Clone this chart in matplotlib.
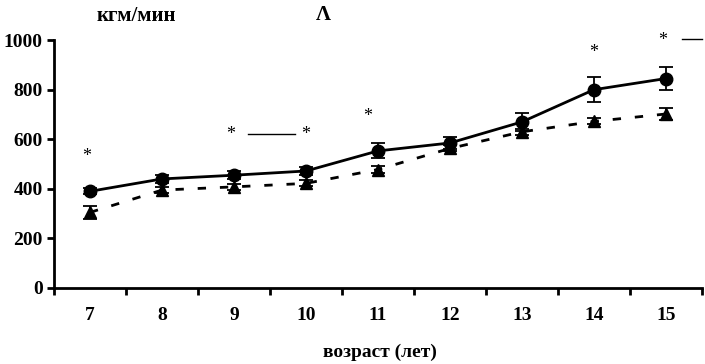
import matplotlib
matplotlib.use("Agg")
import matplotlib.pyplot as plt
import numpy as np

ages = ["7", "8", "9", "10", "11", "12", "13", "14", "15"]
circ_vals = [390, 440, 455, 472, 553, 585, 670, 800, 845]
circ_err = [12, 15, 15, 15, 30, 25, 35, 50, 45]
tri_vals = [305, 395, 408, 422, 478, 563, 630, 672, 702]
tri_err = [25, 12, 12, 12, 15, 12, 12, 12, 25]
star_pos = [(-0.05, 530), (1.95, 620), (3.0, 620), (3.85, 690), (7.0, 950), (7.95, 1000)]

plt.rcParams['font.family'] = ['Liberation Serif', 'DejaVu Serif']
plt.rcParams['font.weight'] = 'bold'

fig = plt.figure(figsize=(7.05, 3.64), dpi=100)
ax = fig.add_axes([0.0766, 0.2088, 0.919, 0.681])
x = np.arange(len(ages))

ax.errorbar(x, circ_vals, yerr=circ_err, fmt='-o', color='black', lw=2,
            ms=9, capsize=5, elinewidth=1.3, capthick=1.3)
ax.errorbar(x, tri_vals, yerr=tri_err, fmt='^', color='black', ms=9,
            capsize=5, elinewidth=1.3, capthick=1.3, ls=(0, (3, 5)), lw=2)

for sx, sy in star_pos:
    ax.text(sx, sy, '*', ha='center', va='center', fontsize=13, fontweight='normal')
ax.plot([2.2, 2.85], [620, 620], color='black', lw=1)
ax.plot([8.23, 8.5], [1005, 1005], color='black', lw=1, clip_on=False)

ax.set_xlim(-0.5, 8.5)
ax.set_ylim(0, 1000)
ax.set_yticks(range(0, 1001, 200))
ax.set_xticks(x)
ax.set_xticklabels(ages)
ax.set_xticks(np.arange(-0.5, 8.6, 1), minor=True)
ax.tick_params(axis='x', which='major', length=0, pad=14, labelsize=14)
ax.tick_params(axis='x', which='minor', length=5, width=2, direction='out')
ax.tick_params(axis='y', length=5, width=2, labelsize=14, pad=3)
for s in ['top', 'right']:
    ax.spines[s].set_visible(False)
for s in ['left', 'bottom']:
    ax.spines[s].set_linewidth(2)

fig.text(0.194, 0.955, 'кгм/мин', fontsize=15, ha='center', va='center')
fig.text(0.458, 0.958, 'Λ', fontsize=15, ha='center', va='center')
fig.text(0.539, 0.033, 'возраст (лет)', fontsize=14, ha='center', va='center')

fig.savefig('out.png', dpi=100)
